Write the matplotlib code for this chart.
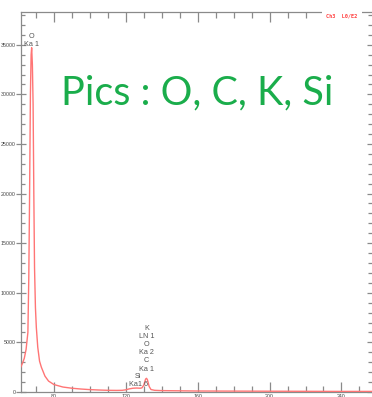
import matplotlib
matplotlib.use("Agg")
import matplotlib.pyplot as plt
from matplotlib.ticker import MultipleLocator

# Spectrum data (channel, counts)
channel = [61.5, 62.5, 63.5, 64.5, 65.5, 66.0, 66.4, 66.9, 67.3, 67.6, 68.0, 68.4,
           68.8, 69.2, 69.7, 70.2, 71.0, 72.0, 73.0, 75.0, 77.0, 80.0, 85.0, 90.0,
           95.0, 100.0, 105.0, 110.0, 115.0, 118.0, 120.0, 122.0, 124.0, 126.0,
           128.0, 129.0, 130.0, 130.5, 131.0, 131.5, 132.0, 132.5, 133.0, 134.0,
           136.0, 140.0, 150.0, 160.0, 180.0, 200.0, 220.0, 240.0, 257.0]
counts = [2500, 2900, 3400, 4300, 6000, 11500, 19000, 30000, 34000, 34700, 33000, 29000,
          20000, 12500, 8500, 6500, 4500, 3100, 2500, 1600, 1100, 750, 500, 380,
          300, 240, 200, 170, 160, 170, 220, 320, 380, 400,
          380, 420, 700, 1000, 1300, 1380, 1250, 900, 550, 250,
          170, 140, 120, 100, 90, 80, 70, 60, 60]

# Peak labels: (channel, lines stacked top to bottom)
peak_labels = [
    (67.7, ["O", "Ka 1"]),
    (131.5, ["K", "LN 1", "O", "Ka 2", "C", "Ka 1"]),
    (127.0, ["Si", "Ka1 6"]),
]
title_text = "Pics : O, C, K, Si"
corner_text = "Ch3  L0/E2"

xmin, xmax = 61.5, 257.0
ymin, ymax = 0, 38300

W, H = 372, 397
fig = plt.figure(figsize=(W / 100, H / 100), dpi=100)
ax = fig.add_axes([20.7 / W, 1 - 392 / H, 1 - 20.7 / W, (392 - 12) / H])

ax.plot(channel, counts, color="#ff7575", lw=1.0, zorder=3)
ax.set_xlim(xmin, xmax)
ax.set_ylim(ymin, ymax)

gray = "#8a8a8a"
for s in ["left", "bottom", "top"]:
    ax.spines[s].set_color(gray)
    ax.spines[s].set_linewidth(0.9)
ax.spines["right"].set_visible(False)

ax.xaxis.set_major_locator(MultipleLocator(40))
ax.xaxis.set_minor_locator(MultipleLocator(10))
ax.yaxis.set_major_locator(MultipleLocator(5000))
ax.yaxis.set_minor_locator(MultipleLocator(1000))

ax.tick_params(axis="y", which="major", direction="inout", length=7, width=0.9,
               color=gray, labelsize=3.8, labelcolor="#444444", pad=0.2,
               right=True)
ax.tick_params(axis="y", which="minor", direction="in", length=3, width=0.9,
               color=gray, right=True)
ax.tick_params(axis="x", which="major", direction="in", length=7, width=0.9,
               color=gray, labelsize=3.8, labelcolor="#444444", pad=1.5,
               top=True)
ax.tick_params(axis="x", which="minor", direction="in", length=4, width=0.9,
               color=gray, top=True)
for lab in ax.get_xticklabels() + ax.get_yticklabels():
    lab.set_family("Liberation Sans")

# peak annotations (stacked text above each peak)
line_px = 8.2
peak_top_px = {0: 36, 1: 328, 2: 376.5}
for i, (cx, lines) in enumerate(peak_labels):
    for j, t in enumerate(lines):
        ypx = peak_top_px[i] + j * line_px
        ax.text(cx, 1 - (ypx - 12) / (392 - 12), t, ha="center", va="center",
                fontsize=5.2, color="#555555", family="Liberation Sans",
                transform=ax.get_xaxis_transform(), zorder=4)

fig.text(197 / W, 1 - 93 / H, title_text, ha="center", va="center",
         fontsize=28.5, color="#1aad4b", family="Lato")
fig.text(342 / W, 1 - 16 / H, corner_text, ha="center", va="center",
         fontsize=3.8, color="#ff4040", family="DejaVu Sans Mono",
         fontweight="bold", zorder=10,
         bbox=dict(facecolor="white", edgecolor="none", pad=3.0))

fig.savefig("out.png", dpi=100)
